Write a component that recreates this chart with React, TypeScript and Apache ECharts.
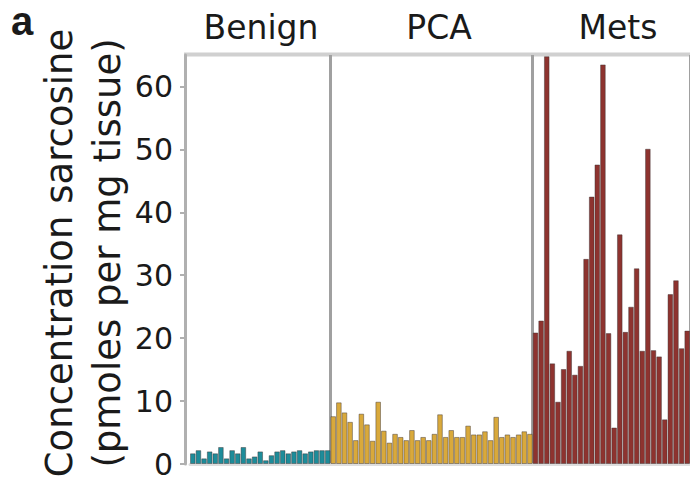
import React, { useEffect, useRef } from "react";
import * as echarts from "echarts";

const groupNames = ["Benign", "PCA", "Mets"];
const benignValues = [1.7, 2.2, 0.9, 2.0, 1.7, 2.7, 0.9, 2.2, 1.7, 2.7, 0.9, 1.2, 2.0, 0.6, 1.4, 2.0, 2.2, 1.7, 2.0, 2.2, 1.7, 2.0, 2.2, 2.2, 2.2];
const pcaValues = [7.6, 9.8, 8.2, 6.7, 3.8, 8.0, 6.3, 3.7, 9.9, 5.3, 3.4, 4.8, 4.3, 3.8, 5.4, 3.8, 4.3, 3.8, 4.8, 7.9, 4.3, 5.4, 4.3, 4.3, 6.1, 4.7, 4.7, 5.2, 3.8, 7.5, 4.3, 4.7, 4.3, 4.7, 5.2, 4.8];
const metsValues = [20.9, 22.8, 64.8, 16.0, 9.9, 15.1, 18.0, 14.2, 15.6, 32.6, 42.5, 47.6, 63.5, 20.8, 5.8, 36.5, 21.0, 25.0, 31.1, 18.0, 50.1, 18.1, 17.1, 7.1, 27.0, 29.2, 18.4, 21.2];
const yTicks = [0, 10, 20, 30, 40, 50, 60];
const yTitle = "Concentration sarcosine\n(pmoles per mg tissue)";

const groupColors = ["#1d8c9a", "#d9a93b", "#8e332f"];

export default function App() {
  const ref = useRef<HTMLDivElement>(null);
  useEffect(() => {
    if (!ref.current) return;
    const chart = echarts.init(ref.current, null, { renderer: "svg" });
    const groups = [benignValues, pcaValues, metsValues];
    const categories: string[] = [];
    groups.forEach((g, gi) => g.forEach((_, i) => categories.push(groupNames[gi] + " " + (i + 1))));
    const total = categories.length;
    const bounds: number[] = [];
    let acc = 0;
    groups.forEach((g) => {
      acc += g.length;
      bounds.push(acc);
    });
    const starts = [0, bounds[0], bounds[1]];
    const series = groups.map((g, gi) => {
      const data: (number | string)[] = new Array(total).fill("-");
      g.forEach((v, i) => (data[starts[gi] + i] = v));
      return {
        type: "bar",
        name: groupNames[gi],
        stack: "all",
        data,
        barCategoryGap: "0%",
        itemStyle: {
          color: groupColors[gi],
          borderColor: "rgba(60,50,50,0.45)",
          borderWidth: 1,
        },
      };
    });
    const font = "DejaVu Sans";
    chart.setOption({
      animation: false,
      grid: { left: 190, right: -3, top: 55, bottom: 23, containLabel: false },
      xAxis: {
        type: "category",
        data: categories,
        offset: 2,
        axisLine: { show: true, lineStyle: { color: "#dedede", width: 3 } },
        axisTick: { show: false },
        axisLabel: { show: false },
        splitLine: {
          show: true,
          interval: (i: number) => i === bounds[0] || i === bounds[1],
          lineStyle: { color: "#a0a0a0", width: 3 },
        },
      },
      yAxis: {
        type: "value",
        min: 0,
        max: 65,
        interval: 10,
        offset: 5,
        axisLine: { show: true, lineStyle: { color: "#b0b0b0", width: 3 } },
        axisTick: { show: true, length: 5, lineStyle: { color: "#b0b0b0", width: 2 } },
        axisLabel: {
          show: true,
          margin: 12,
          fontFamily: font,
          fontSize: 30,
          color: "#1a1a1a",
          showMaxLabel: false,
          formatter: (v: number) => (yTicks.includes(v) ? String(v) : ""),
        },
        splitLine: { show: false },
      },
      series,
      graphic: [
        {
          type: "line",
          shape: { x1: 184, y1: 54.5, x2: 690, y2: 54.5 },
          style: { stroke: "#d0d0d0", lineWidth: 4 },
        },
        {
          type: "text",
          x: 261,
          y: 27,
          style: { text: groupNames[0], font: "33px 'DejaVu Sans'", fill: "#1a1a1a", textAlign: "center", textVerticalAlign: "middle" },
        },
        {
          type: "text",
          x: 439,
          y: 27,
          style: { text: groupNames[1], font: "33px 'DejaVu Sans'", fill: "#1a1a1a", textAlign: "center", textVerticalAlign: "middle" },
        },
        {
          type: "text",
          x: 618,
          y: 27,
          style: { text: groupNames[2], font: "33px 'DejaVu Sans'", fill: "#1a1a1a", textAlign: "center", textVerticalAlign: "middle" },
        },
        {
          type: "text",
          x: 83,
          y: 253,
          rotation: Math.PI / 2,
          style: {
            text: yTitle,
            font: "37px 'DejaVu Sans'",
            lineHeight: 48,
            fill: "#1a1a1a",
            textAlign: "center",
            textVerticalAlign: "middle",
          },
        },
        {
          type: "text",
          x: 11,
          y: 1,
          style: { text: "a", font: "bold 40px 'Liberation Sans'", fill: "#1a1a1a", textAlign: "left", textVerticalAlign: "top" },
        },
      ],
    });
    return () => chart.dispose();
  }, []);
  return <div ref={ref} style={{ width: 690, height: 487, position: "absolute", left: 0, top: 0 }} />;
}
